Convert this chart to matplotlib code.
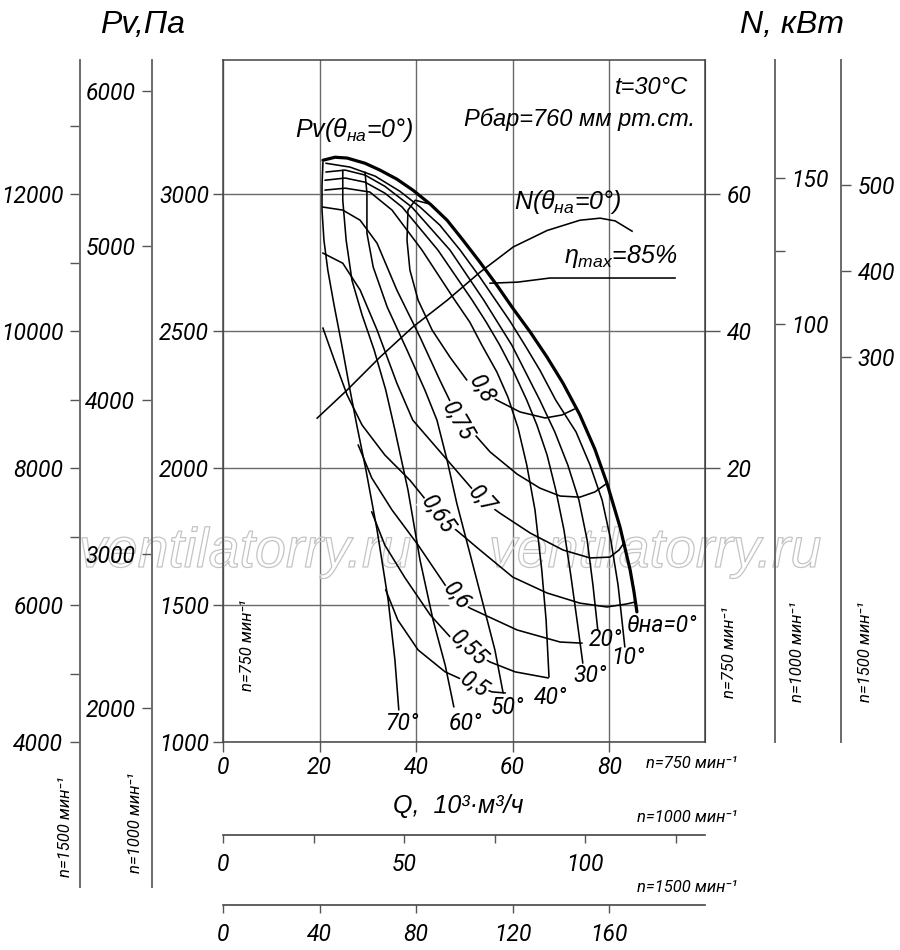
import numpy as np
import matplotlib
matplotlib.use('Agg')
import matplotlib.pyplot as plt
import matplotlib.patheffects as pe
from matplotlib import font_manager

# ---------------- data (n = 750 min^-1 main scale) ----------------
q_ticks_750 = [0, 20, 40, 60, 80]
p_ticks_750 = [1000, 1500, 2000, 2500, 3000]
n_ticks_750 = [20, 40, 60]
p_ticks_1000 = [2000, 3000, 4000, 5000, 6000]
p_ticks_1500 = [4000, 6000, 8000, 10000, 12000]
p_minor_1500 = [5000, 7000, 9000, 11000, 13000]
n_ticks_1000 = [100, 150]
n_minor_1000 = [125]
n_ticks_1500 = [300, 400, 500]
q_ticks_1000 = [0, 50, 100]
q_minor_1000 = [25, 75, 125]
q_ticks_1500 = [0, 40, 80, 120, 160]

theta_names = ['θна=0°', '10°', '20°', '30°', '40°', '50°', '60°', '70°']
eta_names = ['0,8', '0,75', '0,7', '0,65', '0,6', '0,55', '0,5']

th00_q = [20.7, 23.2, 25.7, 29.4, 32.5, 36.0, 39.3, 42.9, 46.4, 49.7, 53.2, 56.7, 60.0, 63.6,
          67.1, 70.4, 73.9, 77.0, 79.5, 82.2, 84.3, 85.1, 85.7]
th00_p = [3124, 3135, 3132, 3113, 3088, 3055, 3015, 2964, 2905, 2832, 2752, 2668, 2584, 2497,
          2405, 2310, 2194, 2069, 1945, 1785, 1628, 1548, 1475]
th10_q = [21.3, 26.3, 31.5, 36.6, 40.8, 44.9, 49.1, 53.2, 56.3, 59.4, 62.5, 65.6, 68.9, 73.1,
          76.0, 78.5, 80.3, 81.8, 82.6, 83.2]
th10_p = [3113, 3099, 3066, 3011, 2953, 2887, 2796, 2697, 2617, 2537, 2449, 2358, 2248, 2132,
          2011, 1883, 1737, 1573, 1445, 1347]
th20_q = [21.3, 25.3, 29.4, 33.5, 39.1, 47.0, 54.0, 59.8, 65.6, 68.7, 71.4, 73.7, 75.4, 76.6, 77.6]
th20_p = [3081, 3088, 3070, 3029, 2953, 2796, 2613, 2449, 2248, 2132, 2011, 1883, 1737, 1573, 1409]
th30_q = [21.1, 25.3, 29.4, 33.5, 37.1, 44.5, 51.6, 54.5, 57.3, 60.2, 62.9, 65.0, 67.1, 68.9,
          70.6, 72.0, 73.3, 74.5]
th30_p = [3051, 3059, 3044, 3004, 2953, 2796, 2613, 2533, 2449, 2351, 2248, 2157, 2048, 1920,
          1774, 1610, 1445, 1288]
th40_q = [21.1, 25.3, 30.4, 35.0, 41.2, 48.0, 51.1, 53.6, 56.7, 59.0, 61.1, 62.9, 64.6, 66.0,
          66.9, 67.5]
th40_p = [3015, 3022, 3008, 2942, 2796, 2613, 2533, 2449, 2351, 2259, 2146, 2011, 1847, 1628,
          1445, 1237]
th50_q = [29.4, 29.8, 29.8, 31.1, 34.0, 38.1, 41.8, 44.3, 46.4, 48.4, 51.1, 53.8, 56.3, 58.0]
th50_p = [3081, 3004, 2858, 2734, 2588, 2431, 2285, 2175, 2029, 1872, 1690, 1507, 1336, 1179]
th60_q = [24.8, 24.8, 25.5, 26.7, 28.8, 31.3, 33.7, 35.6, 38.3, 40.8, 43.5, 46.0, 47.8]
th60_p = [3088, 2978, 2832, 2686, 2559, 2431, 2285, 2139, 1920, 1664, 1445, 1281, 1128]
th70_q = [20.7, 20.5, 20.5, 20.9, 21.7, 23.0, 24.6, 26.3, 27.7, 29.6, 31.9, 34.2, 35.6, 36.4]
th70_p = [3117, 3033, 2942, 2832, 2723, 2595, 2449, 2285, 2157, 1993, 1774, 1518, 1299, 1117]

e80_q = [42.9, 39.8, 38.3, 38.1, 38.7, 40.4, 43.3, 47.0, 50.5, 53.6, 56.7, 61.5, 66.7, 70.2, 72.7]
e80_p = [2964, 2978, 2942, 2832, 2723, 2613, 2504, 2405, 2321, 2285, 2248, 2205, 2183, 2194, 2215]
e75_q = [20.7, 24.8, 28.4, 31.9, 36.0, 40.8, 44.9, 48.7, 52.2, 55.3, 60.9, 65.6, 69.8, 73.9, 77.0, 79.3]
e75_p = [2953, 2942, 2905, 2821, 2650, 2478, 2321, 2183, 2121, 2059, 1978, 1927, 1898, 1894, 1913, 1942]
e70_q = [20.7, 24.8, 28.4, 31.9, 36.0, 39.3, 47.0, 53.6, 57.3, 63.6, 70.4, 76.0, 80.1, 82.0, 83.0]
e70_p = [2785, 2748, 2650, 2504, 2310, 2175, 2018, 1883, 1836, 1763, 1701, 1672, 1675, 1701, 1726]
e65_q = [20.7, 23.2, 25.7, 28.8, 33.5, 38.7, 44.5, 49.5, 53.2, 60.0, 67.1, 73.9, 79.5, 83.6, 85.3]
e65_p = [2511, 2387, 2267, 2157, 2048, 1956, 1829, 1756, 1701, 1602, 1544, 1507, 1493, 1504, 1511]
e60_q = [28.0, 30.8, 35.0, 40.4, 46.0, 48.4, 51.1, 60.9, 69.8, 74.3]
e60_p = [2084, 1964, 1847, 1719, 1573, 1529, 1489, 1409, 1365, 1361]
e55_q = [30.8, 33.5, 37.7, 42.9, 48.0, 51.1, 55.3, 60.5, 67.3]
e55_p = [1840, 1719, 1599, 1464, 1365, 1336, 1292, 1256, 1234]
e50_q = [33.7, 36.2, 40.4, 46.0, 52.0, 55.7, 58.4]
e50_p = [1555, 1445, 1336, 1256, 1208, 1183, 1179]

power_q = [19.5, 25.7, 32.5, 39.3, 46.4, 53.2, 60.1, 67.1, 73.9, 78.1, 81.2, 84.7]
power_n = [27.3, 31.4, 36.2, 40.6, 44.5, 48.6, 52.3, 54.7, 56.2, 56.5, 56.1, 54.6]
etamax_q = [55.3, 61.0, 67.7, 93.6]
etamax_p = [2675, 2679, 2694, 2694]

# ---------------- fonts ----------------
names = {f.name for f in font_manager.fontManager.ttflist}
NARROW = 'Liberation Sans Narrow' if 'Liberation Sans Narrow' in names else 'Roboto'
WIDE = 'Liberation Sans' if 'Liberation Sans' in names else 'DejaVu Sans'
plt.rcParams['font.family'] = [NARROW, 'DejaVu Sans']
plt.rcParams['font.style'] = 'italic'
plt.rcParams['mathtext.fontset'] = 'custom'
plt.rcParams['mathtext.rm'] = WIDE + ':italic'
plt.rcParams['mathtext.it'] = WIDE + ':italic'
FS = 17 if NARROW.endswith('Narrow') else 16.5
FWIDE = [WIDE, 'DejaVu Sans']
GRAY = '#555555'

# ---------------- layout ----------------
W, H = 900, 950
L, R, T, B = 223, 705, 60, 742
XMAX, YMIN, YMAX = 99.8, 1000, 3490

fig = plt.figure(figsize=(W / 100, H / 100), dpi=100)


def fbox(x0, y0, x1, y1):
    return [x0 / W, 1 - y1 / H, (x1 - x0) / W, (y1 - y0) / H]


def p750(py):
    return YMIN + (B - py) * (YMAX - YMIN) / (B - T)


def ftext(a, x, y, s, **kw):
    return a.text(x / W, 1 - y / H, s, transform=fig.transFigure, **kw)


ax = fig.add_axes(fbox(L, T, R, B))
ax.set_xlim(0, XMAX)
ax.set_ylim(YMIN, YMAX)
ax.set_xticks(q_ticks_750)
ax.set_xticklabels([str(v) for v in q_ticks_750])
ax.set_yticks(p_ticks_750)
ax.set_yticklabels([str(v) for v in p_ticks_750])
ax.set_axisbelow(True)
ax.grid(True, color='#6a6a6a', lw=1.0)
ax.tick_params(direction='out', length=7, width=1, color=GRAY, labelsize=FS, pad=3)
for s in ax.spines.values():
    s.set_color('#444444')
    s.set_linewidth(1.1)

# watermark (outline only, as in the original)
for xc in (245, 655):
    ftext(ax, xc, 553, 'ventilatorry.ru', fontsize=40, family=FWIDE, style='italic',
          ha='center', va='center', color='none', zorder=1,
          path_effects=[pe.Stroke(linewidth=0.9, foreground='#c4c4c4')])

# pressure curves
thetas = [(th00_q, th00_p), (th10_q, th10_p), (th20_q, th20_p), (th30_q, th30_p),
          (th40_q, th40_p), (th50_q, th50_p), (th60_q, th60_p), (th70_q, th70_p)]
for i, (q, p) in enumerate(thetas):
    ax.plot(q, p, color='black', lw=2.3 if i == 0 else 1.15, zorder=3,
            solid_joinstyle='round', solid_capstyle='round')

etas = [(e80_q, e80_p), (e75_q, e75_p), (e70_q, e70_p), (e65_q, e65_p),
        (e60_q, e60_p), (e55_q, e55_p), (e50_q, e50_p)]
for q, p in etas:
    ax.plot(q, p, color='black', lw=1.15, zorder=3, solid_joinstyle='round')

ax.plot(etamax_q, etamax_p, color='black', lw=1.15, zorder=3)

# efficiency labels
eta_pos = [(482, 389, -58), (458, 421, -60), (482, 500, -48), (438, 515, -55),
           (457, 596, -50), (469, 648, -43), (474, 685, -33)]
for s, (x, y, r) in zip(eta_names, eta_pos):
    ftext(ax, x, y, s, fontsize=FS, rotation=r, ha='center', va='center', zorder=5,
          rotation_mode='anchor',
          bbox=dict(facecolor='white', edgecolor='none', pad=0.3))

# theta labels
theta_pos = [(627, 625, 'left'), (628, 658, 'center'), (605, 640, 'center'),
             (590, 676, 'center'), (551, 697, 'center'), (507, 708, 'center'),
             (465, 723, 'center'), (402, 723, 'center')]
for s, (x, y, ha) in zip(theta_names, theta_pos):
    ftext(ax, x, y, s, fontsize=FS, ha=ha, va='center', zorder=5)

# power axis n=750 on the right spine
axN = ax.twinx()
axN.set_ylim(-20, 79.6)
axN.set_yticks(n_ticks_750)
axN.set_yticklabels([str(v) for v in n_ticks_750])
axN.tick_params(direction='out', length=11, width=1, color=GRAY, labelsize=FS, pad=5)
for s in ('left', 'top', 'bottom'):
    axN.spines[s].set_visible(False)
axN.spines['right'].set_color('#444444')
axN.plot(power_q, power_n, color='black', lw=1.15, zorder=3)


def vaxis(xpx, ybot, lims, major, minor, side):
    a = fig.add_axes(fbox(xpx, T, xpx + 0.02, ybot))
    a.patch.set_visible(False)
    a.set_ylim(*lims)
    a.set_xticks([])
    for s in ('left', 'right', 'top', 'bottom'):
        a.spines[s].set_visible(s == side)
    a.spines[side].set_color('#6a6a6a')
    a.spines[side].set_linewidth(1.4)
    if side == 'right':
        a.yaxis.tick_right()
    a.set_yticks(major)
    a.set_yticklabels([str(v) for v in major])
    a.set_yticks(minor, minor=True)
    a.tick_params(axis='y', which='both', direction='out', length=7, width=1,
                  color=GRAY, labelsize=FS, pad=5)
    return a


vaxis(152, 887, ((1000 / 750) ** 2 * p750(887), (1000 / 750) ** 2 * p750(T)),
      p_ticks_1000, [], 'left')
vaxis(80, 887, (4 * p750(887), 4 * p750(T)), p_ticks_1500, p_minor_1500, 'left')
vaxis(775, B, (-43.2, 190.4), n_ticks_1000, n_minor_1000, 'right')
vaxis(841, B, (-147.7, 645.3), n_ticks_1500, [], 'right')


def haxis(ypx, factor, major, minor):
    a = fig.add_axes(fbox(L, ypx - 0.02, R, ypx))
    a.patch.set_visible(False)
    a.set_xlim(0, XMAX * factor)
    a.set_yticks([])
    for s in ('left', 'right', 'top'):
        a.spines[s].set_visible(False)
    a.spines['bottom'].set_color('#444444')
    a.spines['bottom'].set_linewidth(1.2)
    a.set_xticks(major)
    a.set_xticklabels([str(v) for v in major])
    a.set_xticks(minor, minor=True)
    a.tick_params(axis='x', which='both', direction='out', length=6, width=1,
                  color=GRAY, labelsize=FS, pad=7)
    return a


haxis(835, 1000 / 750, q_ticks_1000, q_minor_1000)
haxis(905, 1500 / 750, q_ticks_1500, [])

# texts
ftext(ax, 142, 25, 'Pv,Па', fontsize=23, family=FWIDE, ha='center', va='center')
ftext(ax, 792, 25, 'N, кВт', fontsize=23, family=FWIDE, ha='center', va='center')
ftext(ax, 688, 88, 't=30°C', fontsize=17, family=FWIDE, ha='right', va='center')
ftext(ax, 695, 119, 'Рбар=760 мм рт.ст.', fontsize=17, family=FWIDE, ha='right', va='center')
ftext(ax, 354, 130, r'Pv($\theta_{на}$=0°)', fontsize=18, family=FWIDE, ha='center', va='center')
ftext(ax, 568, 202, r'N($\theta_{на}$=0°)', fontsize=18, family=FWIDE, ha='center', va='center',
      zorder=5)
ftext(ax, 621, 257, r'$\eta_{max}$=85%', fontsize=18, family=FWIDE, ha='center', va='center')
ftext(ax, 458, 806, 'Q,  10³·м³/ч', fontsize=18, family=FWIDE, ha='center', va='center')

nfs = 12
for x, y, s in [(248, 645, 'n=750 мин⁻¹'), (729, 652, 'n=750 мин⁻¹'),
                (797, 652, 'n=1000 мин⁻¹'), (865, 652, 'n=1500 мин⁻¹'),
                (66, 827, 'n=1500 мин⁻¹'), (135, 823, 'n=1000 мин⁻¹')]:
    ftext(ax, x, y, s, fontsize=nfs, rotation=90, ha='center', va='center')
for y, s in [(764, 'n=750 мин⁻¹'), (818, 'n=1000 мин⁻¹'), (888, 'n=1500 мин⁻¹')]:
    ftext(ax, 737, y, s, fontsize=nfs, ha='right', va='center')

fig.savefig('out.png', dpi=100)
